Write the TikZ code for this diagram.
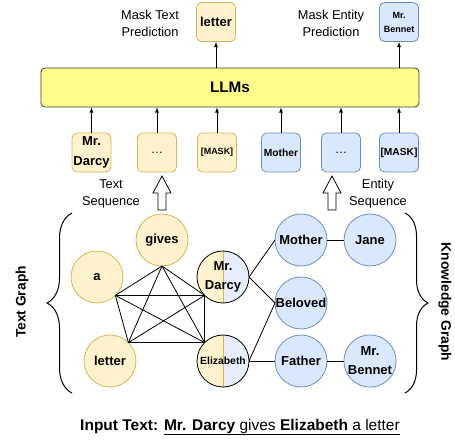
\documentclass[tikz,border=0pt]{standalone}
\usepackage{fontspec}
\setmainfont{Liberation Sans}
\usetikzlibrary{arrows}
\usetikzlibrary{decorations.pathreplacing}
\definecolor{tgfill}{HTML}{FFF2CC}
\definecolor{tgline}{HTML}{D6B656}
\definecolor{kgfill}{HTML}{DAE8FC}
\definecolor{kgline}{HTML}{6C8EBF}
\definecolor{kglight}{HTML}{E6EEFC}
\definecolor{llmfill}{HTML}{FFFF88}
\definecolor{llmline}{HTML}{36393D}
\newcommand{\pxfont}[2]{\fontsize{#1}{#2}\selectfont}

\begin{document}
\begin{tikzpicture}[
  x=1pt, y=-1pt, line width=0.8pt,
  > = latex,
  tbox/.style = {draw=tgline,fill=tgfill,rounded corners=5pt,minimum size=39pt,inner sep=1pt,align=center},
  kbox/.style = {draw=kgline,fill=kgfill,rounded corners=5pt,minimum size=39pt,inner sep=1pt,align=center},
  tnode/.style = {circle,draw=tgline,fill=tgfill,minimum size=52pt,inner sep=0pt,outer sep=0pt,align=center,font=\bfseries\pxfont{13}{19}},
  knode/.style = {circle,draw=kgline,fill=kgfill,minimum size=52pt,inner sep=0pt,outer sep=0pt,align=center,font=\bfseries\pxfont{13}{19}},
  snode/.style = {circle,draw=black,fill=kglight,minimum size=52pt,inner sep=0pt,outer sep=0pt,align=center,font=\bfseries\pxfont{13}{19},
    path picture={\fill[tgfill] (path picture bounding box.north west) rectangle (path picture bounding box.south);
      \draw[tgline] (path picture bounding box.north) -- (path picture bounding box.south);}},
  caption/.style = {align=center,font=\pxfont{12.8}{17}},
  hollow/.style = {draw,fill=white,line join=miter},
  curly/.style = {decorate,decoration={brace,amplitude=#1},line width=1pt}
  ]
	\useasboundingbox (0,0) rectangle (455,443);

	% LLM and predictions
	\node[draw=llmline,fill=llmfill,rounded corners=4pt,minimum width=378pt,minimum height=39pt,font=\bfseries\pxfont{15.3}{18}] (llm) at (230,87.5) {LLMs};
	\node[tbox,font=\bfseries\pxfont{13}{16}] (predtext) at (216,22) {letter};
	\node[kbox,font=\bfseries\pxfont{9}{14}] (predent) at (399,22) {Mr.\\Bennet};
	\node[caption] (masktext) at (150,23.5) {Mask Text\\Prediction};
	\node[caption] (maskent) at (331,23.5) {Mask Entity\\Prediction};
	\draw[->] (predtext |- llm.north) -- (predtext);
	\draw[->] (predent |- llm.north) -- (predent);

	% input sequences
	\node[tbox,font=\bfseries\pxfont{13}{20}] (sdarcy) at (91.5,152.5) {Mr.\\Darcy};
	\node[tbox,font=\pxfont{12}{14}] (sdots) at (157,152.5) {\dots};
	\node[tbox,font=\bfseries\pxfont{9}{12}] (smask) at (217,152.5) {[MASK]};
	\node[kbox,font=\bfseries\pxfont{10.3}{12}] (smother) at (281,152.5) {Mother};
	\node[kbox,font=\pxfont{12}{14}] (edots) at (341,152.5) {\dots};
	\node[kbox,font=\bfseries\pxfont{10.2}{12}] (emask) at (399,152.5) {[MASK]};
	\foreach \s in {sdarcy,sdots,smask,smother,edots,emask}
		\draw[->] (\s) -- (\s |- llm.south);

	\node[caption] (tseqlabel) at (111,194) {Text\\Sequence};
	\node[caption] (eseqlabel) at (378,193.5) {Entity\\Sequence};
	\coordinate (@t) at (162,210);
	\coordinate (@e) at (332,210);
	\draw[hollow] (@t) ++(-4,0) -- ++(0,-17) -- ++(-5,0) -- ++(9,-17) -- ++(9,17) -- ++(-5,0) -- ++(0,17) -- cycle;
	\draw[hollow] (@e) ++(-4,0) -- ++(0,-17) -- ++(-5,0) -- ++(9,-17) -- ++(9,17) -- ++(-5,0) -- ++(0,17) -- cycle;

	% text graph
	\node[tnode] (gives) at (162,240) {gives};
	\node[tnode] (a) at (97,277) {a};
	\node[tnode] (letter) at (110,361) {letter};
	\node[snode] (darcy) at (223,277) {Mr.\\Darcy};
	\node[snode,font=\bfseries\pxfont{10.4}{12}] (eliza) at (223,361) {Elizabeth};

	\draw (a.-45) -- (gives.south);
	\draw (a.-45) -- (darcy.-135);
	\draw (a.-45) -- (eliza.135);
	\draw (a.-45) -- (letter.45);
	\draw (gives.south) -- (letter.45);
	\draw (gives.south) -- (darcy.-135);
	\draw (gives.south) -- (eliza.135);
	\draw (letter.45) -- (darcy.-135);
	\draw (letter.45) -- (eliza.135);
	\draw (darcy.-135) -- (eliza.135);

	% knowledge graph
	\node[knode] (mother) at (301,240) {Mother};
	\node[knode] (jane) at (370,240) {Jane};
	\node[knode] (beloved) at (301,303) {Beloved};
	\node[knode] (father) at (301,361) {Father};
	\node[knode] (bennet) at (370,361) {Mr.\\Bennet};

	\draw (darcy.east) -- (mother.west);
	\draw (darcy.east) -- (beloved.west);
	\draw (eliza.east) -- (beloved.west);
	\draw (eliza.east) -- (father.west);
	\draw (mother) -- (jane);
	\draw (father) -- (bennet);

	% braces and labels
	\draw[curly=25pt] (72,393) -- (72,213);
	\draw[curly=23pt] (405,213) -- (405,393);
	\node[rotate=90,font=\bfseries\pxfont{13.8}{16}] (tglabel) at (22,302) {Text Graph};
	\node[rotate=-90,font=\bfseries\pxfont{13.8}{16}] (kglabel) at (445,302) {Knowledge Graph};

	\node[font=\pxfont{15.5}{18}] (input) at (240,427) {\textbf{Input Text:} \underline{\textbf{Mr. Darcy} gives \textbf{Elizabeth} a letter}};

\end{tikzpicture}
\end{document}
